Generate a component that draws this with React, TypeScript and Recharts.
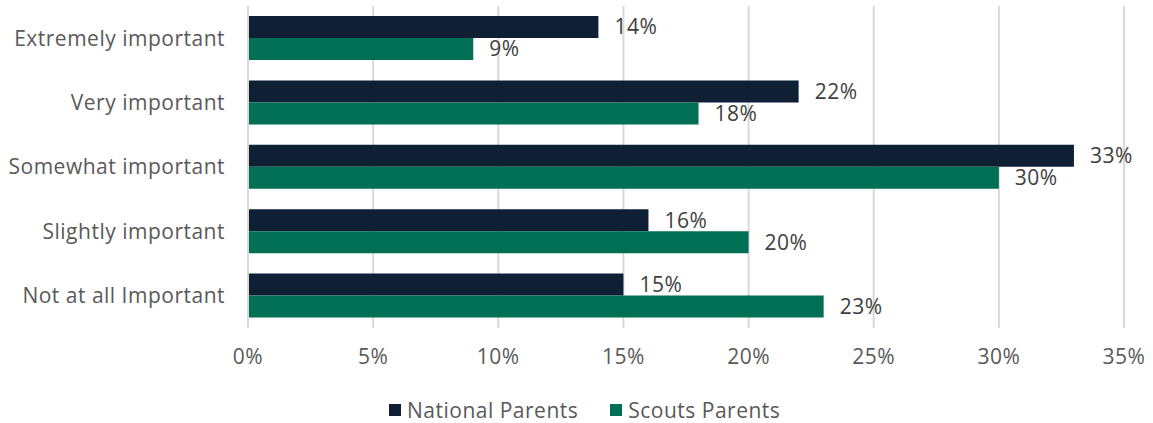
import React from 'react';
import { BarChart, Bar, XAxis, YAxis, CartesianGrid, Legend, LabelList } from 'recharts';

// Survey answers, top to bottom
const categories = [
  'Extremely important',
  'Very important',
  'Somewhat important',
  'Slightly important',
  'Not at all Important',
];
const nationalParents = [14, 22, 33, 16, 15];
const scoutsParents = [9, 18, 30, 20, 23];
const xTicks = [0, 5, 10, 15, 20, 25, 30, 35];

const NAVY = '#0f2035';
const GREEN = '#006f53';
const AXIS_TEXT = '#595959';
const FONT = '"Open Sans", sans-serif';
const FS = 21;
const LS = 0.5;

const data = categories.map((name, i) => ({
  name,
  national: nationalParents[i],
  scouts: scoutsParents[i],
}));

const pct = (v: number) => `${v}%`;

const LegendContent = () => (
  <div style={{ display: 'flex', alignItems: 'center', fontFamily: FONT, fontSize: FS, letterSpacing: LS, color: AXIS_TEXT, whiteSpace: 'nowrap' }}>
    <span style={{ width: 12, height: 12, background: NAVY, display: 'inline-block', marginRight: 6 }} />
    <span style={{ marginRight: 32 }}>National Parents</span>
    <span style={{ width: 12, height: 12, background: GREEN, display: 'inline-block', marginRight: 6 }} />
    <span>Scouts Parents</span>
  </div>
);

const textStyle = { fill: AXIS_TEXT, fontSize: FS, fontFamily: FONT, letterSpacing: LS };

export default function App() {
  document.body.style.margin = '0';
  return (
    <div style={{ width: 1153, height: 423, background: '#fff' }}>
      <BarChart
        width={1153}
        height={423}
        data={data}
        layout="vertical"
        margin={{ top: 6, right: 29, bottom: 55, left: 0 }}
        barCategoryGap={10}
        barGap={0}
      >
        <CartesianGrid horizontal={false} stroke="#d9d9d9" strokeWidth={2} />
        <XAxis
          type="number"
          domain={[0, 35]}
          ticks={xTicks}
          tickFormatter={pct}
          axisLine={false}
          tickLine={false}
          tickSize={0}
          tickMargin={21}
          height={40}
          tick={textStyle}
          interval={0}
        />
        <YAxis
          type="category"
          dataKey="name"
          width={248}
          axisLine={{ stroke: '#d9d9d9', strokeWidth: 2 }}
          tickLine={false}
          tickSize={0}
          tickMargin={23}
          tick={textStyle}
          interval={0}
        />
        <Legend
          layout="horizontal"
          verticalAlign="middle"
          align="center"
          content={LegendContent}
          wrapperStyle={{ top: 396, left: 389, width: 'auto' }}
        />
        <Bar dataKey="national" name="National Parents" fill={NAVY} barSize={22} isAnimationActive={false}>
          <LabelList dataKey="national" position="right" offset={16} formatter={pct} fill="#404040" fontSize={FS} fontFamily={FONT} style={{ letterSpacing: LS }} />
        </Bar>
        <Bar dataKey="scouts" name="Scouts Parents" fill={GREEN} barSize={22} isAnimationActive={false}>
          <LabelList dataKey="scouts" position="right" offset={16} formatter={pct} fill="#404040" fontSize={FS} fontFamily={FONT} style={{ letterSpacing: LS }} />
        </Bar>
      </BarChart>
    </div>
  );
}
